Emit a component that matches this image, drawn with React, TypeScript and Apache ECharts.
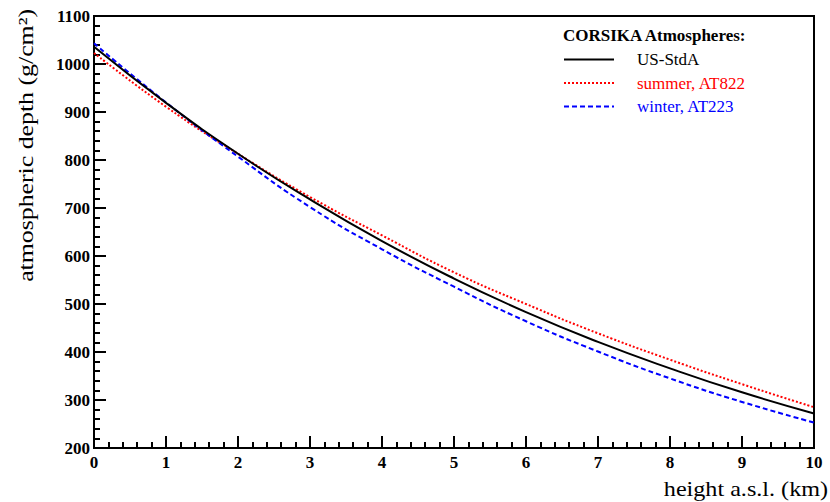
import React, { useEffect, useRef } from "react";
import * as echarts from "echarts";

const heightsKm = [0, 1, 2, 3, 4, 5, 6, 7, 8, 9, 10];
const usStdA = [1036, 919, 813, 718, 631, 553, 483, 421, 366, 316, 272];
const summerAT822 = [1023, 911, 813, 723, 643, 566, 500, 439, 384, 333, 285];
const winterAT223 = [1043, 920, 807, 702, 614, 536, 464, 401, 345, 296, 253];
const seriesNames = ["US-StdA", "summer, AT822", "winter, AT223"];
const legendTitle = "CORSIKA Atmospheres:";
const xTitle = "height a.s.l. (km)";
const yTitle = "atmospheric depth (g/cm\u00b2)";

const FONT = "Liberation Serif";

export default function App() {
  const ref = useRef<HTMLDivElement>(null);
  useEffect(() => {
    if (!ref.current) return;
    const chart = echarts.init(ref.current, undefined, { renderer: "svg" });
    const mk = (vals: number[]) => heightsKm.map((h, i) => [h, vals[i]]);
    const tickStyle = { color: "#000", width: 2 };
    chart.setOption({
      animation: false,
      backgroundColor: "#fff",
      textStyle: { fontFamily: FONT },
      title: {
        text: legendTitle,
        left: 558,
        top: 22,
        textStyle: { fontFamily: FONT, fontSize: 17, fontWeight: "bold", color: "#000" },
      },
      legend: {
        orient: "vertical",
        left: 558,
        top: 46,
        itemWidth: 50,
        itemHeight: 14,
        itemGap: 6.5,
        itemStyle: { color: "transparent", opacity: 0, borderWidth: 0 },
        textStyle: { fontFamily: FONT, fontSize: 17, padding: [0, 0, 0, 18] },
        data: [
          { name: seriesNames[0], textStyle: { color: "#000" } },
          { name: seriesNames[1], textStyle: { color: "#ff0000" } },
          { name: seriesNames[2], textStyle: { color: "#0000ff" } },
        ],
      },
      grid: {
        left: 94,
        top: 16,
        width: 720,
        height: 432,
        show: true,
        borderColor: "#000",
        borderWidth: 2,
        backgroundColor: "transparent",
      },
      xAxis: {
        type: "value",
        min: 0,
        max: 10,
        interval: 1,
        axisLine: { show: true, lineStyle: { color: "#000", width: 2 } },
        axisTick: { show: true, inside: true, length: 12, lineStyle: tickStyle },
        minorTick: { show: true, splitNumber: 5, length: 6, lineStyle: tickStyle },
        splitLine: { show: false },
        axisLabel: {
          fontFamily: FONT,
          fontSize: 17,
          fontWeight: "bold",
          color: "#000",
          margin: 6,
          formatter: (v: number) => String(v),
        },
      },
      yAxis: {
        type: "value",
        min: 200,
        max: 1100,
        interval: 100,
        axisLine: { show: true, lineStyle: { color: "#000", width: 2 } },
        axisTick: { show: true, inside: true, length: 12, lineStyle: tickStyle },
        minorTick: { show: true, splitNumber: 5, length: 6, lineStyle: tickStyle },
        splitLine: { show: false },
        axisLabel: {
          fontFamily: FONT,
          fontSize: 17,
          fontWeight: "bold",
          color: "#000",
          margin: 4,
          formatter: (v: number) => String(v),
        },
      },
      series: [
        {
          name: seriesNames[0],
          type: "line",
          data: mk(usStdA),
          symbol: "none",
          smooth: true,
          lineStyle: { color: "#000", width: 2, type: "solid" },
          itemStyle: { color: "#000" },
          z: 3,
        },
        {
          name: seriesNames[1],
          type: "line",
          data: mk(summerAT822),
          symbol: "none",
          smooth: true,
          lineStyle: { color: "#ff0000", width: 2, type: [2, 2] },
          itemStyle: { color: "#ff0000" },
          z: 2,
        },
        {
          name: seriesNames[2],
          type: "line",
          data: mk(winterAT223),
          symbol: "none",
          smooth: true,
          lineStyle: { color: "#0000ff", width: 2, type: [5, 3] },
          itemStyle: { color: "#0000ff" },
          z: 2,
        },
      ],
      graphic: [
        {
          type: "text",
          x: 26,
          y: 9,
          rotation: Math.PI / 2,
          scaleX: 1.23,
          style: {
            text: yTitle,
            fontFamily: FONT,
            fontSize: 21,
            fill: "#000",
            textAlign: "right",
            textVerticalAlign: "middle",
          },
        },
        {
          type: "text",
          x: 828,
          y: 489,
          scaleX: 1.15,
          style: {
            text: xTitle,
            fontFamily: FONT,
            fontSize: 21,
            fill: "#000",
            textAlign: "right",
            textVerticalAlign: "middle",
          },
        },
      ],
    });
    return () => chart.dispose();
  }, []);
  return (
    <div
      ref={ref}
      style={{ position: "fixed", left: 0, top: 0, width: 830, height: 502 }}
    />
  );
}
